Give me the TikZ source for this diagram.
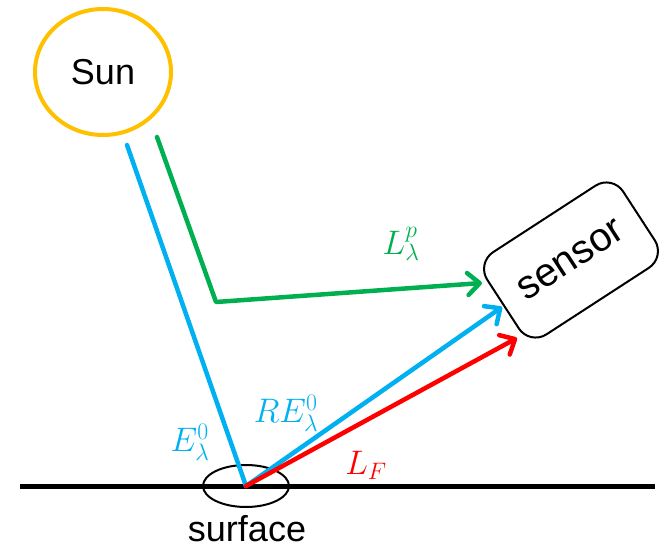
\RequirePackage{fix-cm}
\documentclass[tikz,border=0pt]{standalone}
\usepackage[no-math]{fontspec}
\setmainfont{Liberation Sans}
\usetikzlibrary{arrows.meta,shapes.geometric}
\definecolor{sunorange}{RGB}{255,192,0}
\definecolor{skyblue}{RGB}{0,176,240}
\definecolor{leafgreen}{RGB}{0,176,80}
\tikzset{
  ray/.style={line width=4.5pt,line cap=round,line join=round},
  tip/.style={-{Straight Barb[length=12pt,width=22pt,round]}},
  big/.style={font=\fontsize{36}{40}\selectfont},
  lbl/.style={font=\fontsize{34}{37}\selectfont},
}
\begin{document}
\begin{tikzpicture}[x=1pt,y=-1pt]
\useasboundingbox (0,0) rectangle (659,549);
% ground
\coordinate (gl) at (20,486);
\coordinate (gr) at (655,486);
\draw[line width=5pt] (gl) -- (gr);
% sun, sensor and the spot on the surface
\node[ellipse,draw=sunorange,line width=4pt,minimum width=136pt,minimum height=126pt,big] (sun) at (103,72) {Sun};
\node[draw,rounded corners=20pt,line width=2pt,rotate=33,minimum width=162pt,minimum height=98pt,font=\fontsize{40}{44}\selectfont] (sensor) at (571,260) {sensor};
\node[ellipse,draw,line width=2pt,minimum width=86pt,minimum height=42pt] (spot) at (246,486) {};
\node[big] (surf) at (247,529) {surface};
% rays
\coordinate (bs) at (127,145);
\coordinate (gs) at (157,137);
\coordinate (gk) at (216,302);
\coordinate (gt) at (482,283);
\coordinate (bt) at (502,307);
\coordinate (rt) at (517,338);
\draw[ray,skyblue] (bs) -- (spot.center);
\draw[ray,leafgreen,tip] (gs) -- (gk) -- (gt);
\draw[ray,skyblue,tip] (spot.center) -- (bt);
\draw[ray,red,tip] (spot.center) -- (rt);
% labels
\node[lbl,text=leafgreen] (lp) at (401,244) {$L_\lambda^p$};
\node[lbl,text=skyblue] (re) at (286,413) {$RE_\lambda^0$};
\node[lbl,text=skyblue] (e0) at (190,442) {$E_\lambda^0$};
\node[lbl,text=red] (lf) at (366,465) {$L_F$};
\end{tikzpicture}
\end{document}
